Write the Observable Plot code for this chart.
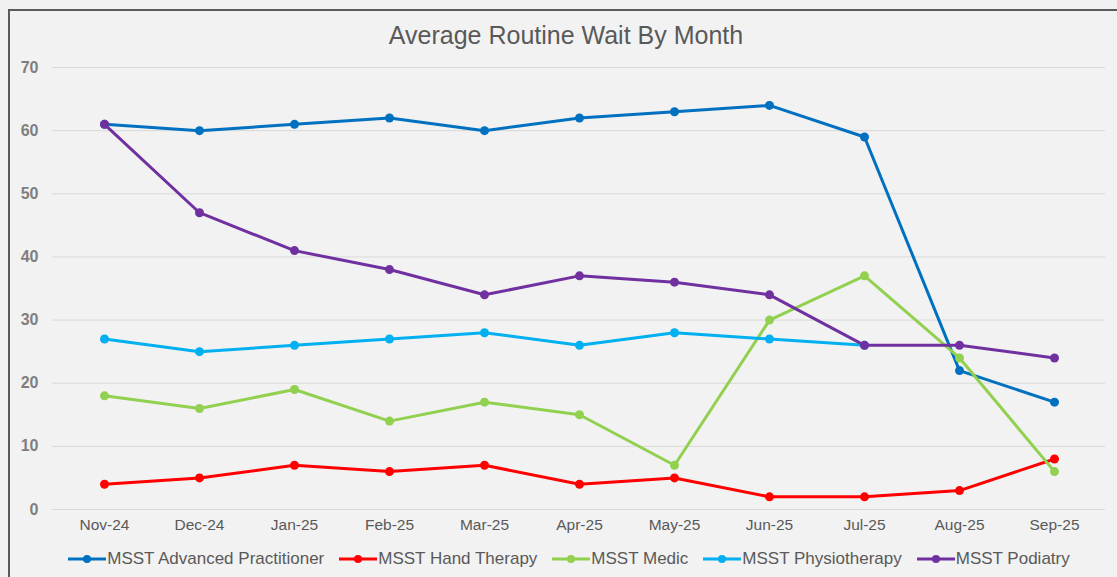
<!DOCTYPE html>
<html>
<head>
<meta charset="utf-8">
<script src="https://cdn.jsdelivr.net/npm/d3@7"></script>
<script src="https://cdn.jsdelivr.net/npm/@observablehq/plot@0.6"></script>
<style>
  html, body { margin: 0; padding: 0; background: #f1f1f1; }
  body { width: 1117px; height: 577px; overflow: hidden; position: relative; font-family: "Liberation Sans", Arial, sans-serif; }
  #frame { position: absolute; left: 8px; top: 9px; width: 1109px; height: 568px; border-left: 2px solid #5a5a5a; border-top: 2px solid #5a5a5a; background: #f2f2f2; box-sizing: border-box; }
  #title { position: absolute; left: 0; top: 21px; width: 1132px; text-align: center; font-size: 25px; color: #595959; }
  #chart { position: absolute; left: 0; top: 55px; }
  #legend { position: absolute; left: 0; top: 549px; width: 1117px; display: flex; justify-content: center; gap: 14px; font-size: 17px; color: #595959; margin-left: 10px; }
  .item { display: flex; align-items: center; gap: 0px; }
  .item svg { display: block; }
</style>
</head>
<body>
<div id="frame"></div>
<div id="title">Average Routine Wait By Month</div>
<div id="chart"></div>
<div id="legend"></div>
<script>
const months = ["Nov-24","Dec-24","Jan-25","Feb-25","Mar-25","Apr-25","May-25","Jun-25","Jul-25","Aug-25","Sep-25"];
const seriesNames = ["MSST Advanced Practitioner","MSST Hand Therapy","MSST Medic","MSST Physiotherapy","MSST Podiatry"];
const seriesColors = ["#0070C0","#FF0000","#92D050","#00B0F0","#7030A0"];
const advancedPractitioner = [61, 60, 61, 62, 60, 62, 63, 64, 59, 22, 17];
const handTherapy = [4, 5, 7, 6, 7, 4, 5, 2, 2, 3, 8];
const medic = [18, 16, 19, 14, 17, 15, 7, 30, 37, 24, 6];
const physiotherapy = [27, 25, 26, 27, 28, 26, 28, 27, 26];
const podiatry = [61, 47, 41, 38, 34, 37, 36, 34, 26, 26, 24];
const yTicks = [0, 10, 20, 30, 40, 50, 60, 70];

const seriesValues = [advancedPractitioner, handTherapy, medic, physiotherapy, podiatry];
const data = [];
seriesValues.forEach((vals, i) => {
  vals.forEach((v, j) => data.push({series: seriesNames[i], month: months[j], value: v}));
});

const chart = Plot.plot({
  width: 1117,
  height: 485,
  marginLeft: 52,
  marginRight: 12,
  marginTop: 12,
  marginBottom: 31,
  style: { background: "transparent", fontFamily: "Liberation Sans, Arial, sans-serif" },
  x: { type: "point", domain: months, padding: 0.5, label: null },
  y: { domain: [0, 70], ticks: yTicks, label: null },
  color: { domain: seriesNames, range: seriesColors },
  marks: [
    Plot.ruleY(yTicks, { stroke: "#d9d9d9", strokeWidth: 1 }),
    Plot.axisY({ ticks: yTicks, tickSize: 0, tickPadding: 0, dx: -14, fontSize: 16, fontWeight: "bold", fill: "#7f7f7f", label: null, textAnchor: "end" }),
    Plot.axisX({ tickSize: 0, tickPadding: 9, fontSize: 15.5, fill: "#595959", label: null }),
    Plot.line(data, { x: "month", y: "value", z: "series", stroke: "series", strokeWidth: 3, curve: "linear" }),
    Plot.dot(data, { x: "month", y: "value", fill: "series", r: 4.5 })
  ]
});
document.getElementById("chart").appendChild(chart);

const legend = document.getElementById("legend");
seriesNames.forEach((name, i) => {
  const item = document.createElement("div");
  item.className = "item";
  item.innerHTML = `<svg width="40" height="12"><line x1="1" y1="6" x2="39" y2="6" stroke="${seriesColors[i]}" stroke-width="3"/><circle cx="20" cy="6" r="4" fill="${seriesColors[i]}"/></svg><span>${name}</span>`;
  legend.appendChild(item);
});
</script>
</body>
</html>
